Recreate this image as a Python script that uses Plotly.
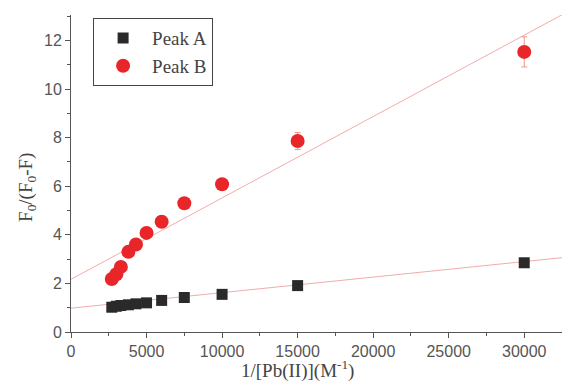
import plotly.graph_objects as go

conc_inv = [2700, 3000, 3300, 3800, 4300, 5000, 6000, 7500, 10000, 15000, 30000]
peak_a = [1.02, 1.06, 1.09, 1.12, 1.16, 1.2, 1.3, 1.42, 1.55, 1.91, 2.85]
peak_b = [2.18, 2.38, 2.68, 3.3, 3.6, 4.08, 4.54, 5.3, 6.08, 7.86, 11.53]
err_a = [0.03, 0.03, 0.03, 0.03, 0.03, 0.03, 0.04, 0.04, 0.05, 0.06, 0.1]
err_b = [0.08, 0.08, 0.1, 0.1, 0.1, 0.1, 0.12, 0.15, 0.2, 0.35, 0.62]

fit_x = [0, 32500]
fit_a = (0.98, 6.4e-5)   # intercept, slope
fit_b = (2.17, 3.35e-4)

x_title = "1/[Pb(II)](M<sup>-1</sup>)"
y_title = "F<sub>0</sub>/(F<sub>0</sub>-F)"

fig = go.Figure()
line_col = "rgba(240,150,150,0.8)"
fig.add_trace(go.Scatter(x=fit_x, y=[fit_a[0] + fit_a[1] * v for v in fit_x], mode="lines",
                         line=dict(color=line_col, width=1), showlegend=False, hoverinfo="skip"))
fig.add_trace(go.Scatter(x=fit_x, y=[fit_b[0] + fit_b[1] * v for v in fit_x], mode="lines",
                         line=dict(color=line_col, width=1), showlegend=False, hoverinfo="skip"))
fig.add_trace(go.Scatter(x=conc_inv, y=peak_a, mode="markers", name="Peak A",
                         marker=dict(symbol="square", size=11, color="#2a2a2a"),
                         error_y=dict(type="data", array=err_a, color="#555", thickness=1, width=3)))
fig.add_trace(go.Scatter(x=conc_inv, y=peak_b, mode="markers", name="Peak B",
                         marker=dict(symbol="circle", size=14, color="#e8262a"),
                         error_y=dict(type="data", array=err_b, color="rgba(240,140,120,0.9)", thickness=1, width=3)))

axis_common = dict(showline=True, linecolor="#555", linewidth=1, ticks="outside", ticklen=5,
                   tickcolor="#555", showgrid=False, zeroline=False, mirror=False,
                   tickfont=dict(family="Liberation Sans, Arial", size=16, color="#555"))
fig.update_xaxes(range=[0, 32500], dtick=5000, tick0=0, tickformat="d", ticklabelstandoff=0,
                 minor=dict(ticks="outside", dtick=2500, ticklen=3, tickcolor="#555"),
                 **axis_common)
fig.update_yaxes(range=[0, 13.05], dtick=2, tick0=0,
                 minor=dict(ticks="outside", dtick=1, ticklen=3, tickcolor="#555"),
                 **axis_common)
fig.add_annotation(text=x_title, xref="paper", yref="paper", x=0.462, y=-0.074,
                   xanchor="center", yanchor="top", showarrow=False,
                   font=dict(family="Liberation Serif, Times New Roman", size=19, color="#444"))
fig.add_annotation(text=y_title, xref="paper", yref="paper", x=-0.09, y=0.457,
                   xanchor="center", yanchor="middle", textangle=-90, showarrow=False,
                   font=dict(family="Liberation Serif, Times New Roman", size=19, color="#444"))
fig.update_layout(width=562, height=381, margin=dict(l=71, r=0, t=15, b=49),
                  plot_bgcolor="white", paper_bgcolor="white",
                  legend=dict(x=0.045, y=0.99, xanchor="left", yanchor="top",
                              bordercolor="#444", borderwidth=1, bgcolor="white",
                              itemwidth=48,
                              font=dict(family="Liberation Serif, Times New Roman", size=19, color="#444"),
                              tracegroupgap=0))
fig.write_html("out.html")
